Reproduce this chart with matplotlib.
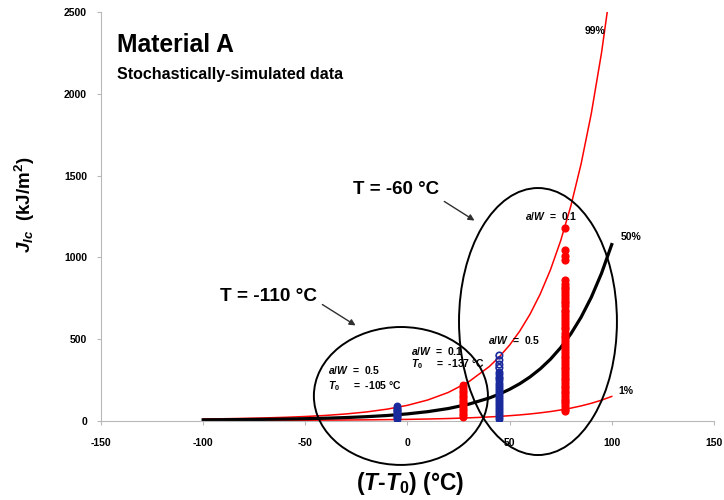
import matplotlib
matplotlib.use("Agg")
import matplotlib.pyplot as plt
from matplotlib.patches import Ellipse

plt.rcParams['font.family'] = ['Liberation Sans', 'DejaVu Sans']
plt.rcParams['font.weight'] = 'bold'
plt.rcParams['axes.unicode_minus'] = False
plt.rcParams['mathtext.fontset'] = 'custom'
plt.rcParams['mathtext.it'] = 'Liberation Sans:italic:bold'
plt.rcParams['mathtext.rm'] = 'Liberation Sans:bold'
plt.rcParams['mathtext.bf'] = 'Liberation Sans:bold'

# tolerance bounds (T-T0 in degC, J in kJ/m^2)
x_curve = [-100, -90, -80, -70, -60, -50, -40, -30, -20, -10, 0, 10, 20, 30,
           40, 45, 50, 55, 60, 65, 70, 75, 80, 85, 90, 95, 100]
j_50 = [7.1, 7.9, 8.9, 10.2, 11.9, 14.2, 17.1, 21.1, 26.4, 33.6, 43.5, 57.2,
        76.2, 102.8, 140.4, 164.6, 193.6, 228.1, 269.3, 318.6, 377.5, 448.1,
        532.8, 634.3, 756.1, 902.5, 1078.3]
j_01 = [3.2, 3.4, 3.6, 3.9, 4.2, 4.7, 5.3, 6.0, 7.0, 8.3, 9.9, 12.1, 15.1,
        19.2, 24.7, 28.2, 32.4, 37.2, 43.0, 49.8, 57.8, 67.4, 78.7, 92.2,
        108.2, 127.4, 150.2]
j_99 = [12.2, 13.8, 16.0, 18.8, 22.5, 27.5, 34.1, 43.2, 55.4, 72.4, 95.8,
        128.6, 174.6, 239.7, 332.1, 392.1, 463.9, 549.8, 652.7, 776.0, 923.9,
        1101.5, 1314.8, 1571.0, 1879.2, 2249.8, 2696.0]

# simulated specimens
x_b1 = -5    # T=-110, a/W=0.5
j_b1 = [15, 22, 30, 38, 45, 52, 60, 68, 75, 82, 90]
x_r1 = 27    # T=-110, a/W=0.1
j_r1 = [25, 35, 45, 55, 65, 75, 85, 95, 105, 115, 125, 135, 145, 155, 165,
        175, 185, 195, 205, 220]
x_b2 = 45    # T=-60, a/W=0.5
j_b2 = [12, 22, 35, 48, 60, 72, 85, 98, 110, 122, 135, 148, 160, 172, 185,
        198, 210, 222, 235, 248, 260, 272, 285, 298]
j_b2_open = [325, 345, 372, 400]
x_r2 = 77    # T=-60, a/W=0.1
j_r2 = [62, 75, 90, 108, 120, 135, 150, 170, 185, 200, 215, 232, 250, 262,
        280, 300, 315, 330, 350, 368, 385, 400, 418, 435, 450, 470, 488, 505,
        520, 540, 560, 575, 590, 610, 630, 650, 665, 680, 700, 720, 735, 750,
        770, 790, 805, 820, 840, 860, 985, 1010, 1045, 1180]

red = '#ff0000'
blue = '#1a2a9c'

fig = plt.figure(figsize=(7.24, 5.0), dpi=100)
ax = fig.add_axes([0.1395, 0.158, 0.8465, 0.818])

ax.plot(x_curve, j_01, color=red, lw=1.1)
ax.plot(x_curve, j_99, color=red, lw=1.1)
ax.plot(x_curve, j_50, color='black', lw=2.3)

ax.scatter([x_b1] * len(j_b1), j_b1, s=22, color=blue, zorder=3)
ax.scatter([x_r1] * len(j_r1), j_r1, s=22, color=red, zorder=3)
ax.scatter([x_b2] * len(j_b2), j_b2, s=22, color=blue, zorder=3)
ax.scatter([x_b2] * len(j_b2_open), j_b2_open, s=22, facecolor='none',
           edgecolor=blue, lw=1.2, zorder=3)
ax.scatter([x_r2] * len(j_r2), j_r2, s=24, color=red, zorder=3)

# grouping ellipses
ax.add_patch(Ellipse((-3.2, 153), 85.2, 843, fill=False, ec='black', lw=1.4,
                     clip_on=False, zorder=4))
ax.add_patch(Ellipse((63.9, 608), 77.3, 1632, fill=False, ec='black', lw=1.4,
                     clip_on=False, zorder=4))

ax.set_xlim(-150, 150)
ax.set_ylim(0, 2500)
ax.set_xticks([-150, -100, -50, 0, 50, 100, 150])
ax.set_yticks([0, 500, 1000, 1500, 2000, 2500])
for s in ['top', 'right']:
    ax.spines[s].set_visible(False)
for s in ['left', 'bottom']:
    ax.spines[s].set_color('#b8b8b8')
    ax.spines[s].set_linewidth(0.8)
ax.tick_params(direction='out', length=3, width=0.8, color='#b8b8b8',
               labelsize=7.5)
ax.tick_params(axis='x', pad=9)
ax.tick_params(axis='y', pad=7)

ax.set_xlabel(r"($\mathit{T}$-$\mathit{T}_{\mathit{0}}$) (°C)", fontsize=16.5,
              fontweight='bold', va='center')
ax.xaxis.set_label_coords(0.504, -0.152)
ax.set_ylabel(r"$\mathit{J}_{\mathit{Ic}}$  (kJ/m$^{\mathrm{2}}$)",
              fontsize=13.5, fontweight='bold', va='center')
ax.yaxis.set_label_coords(-0.124, 0.528)

ax.text(-142.2, 2298, "Material A", fontsize=17.7, va='center')
ax.text(-142.2, 2120, "Stochastically-simulated data", fontsize=11.5,
        va='center')

ax.text(-26.7, 1418, "T = -60 °C", fontsize=13.5, va='center')
ax.text(-91.8, 758, "T = -110 °C", fontsize=13.7, va='center')
arrow = dict(arrowstyle='-|>', color='#303030', lw=1.0, mutation_scale=9)
ax.annotate('', xy=(34.0, 1216), xytext=(16.9, 1351), arrowprops=arrow)
ax.annotate('', xy=(-24.2, 575), xytext=(-42.8, 721), arrowprops=arrow)

ax.text(86.9, 2384, "99%", fontsize=7.5, va='center')
ax.text(104.5, 1125, "50%", fontsize=7.5, va='center')
ax.text(103.2, 183, "1%", fontsize=7.5, va='center')

ax.text(-38.9, 312, r"$\mathit{a/W}$  =  0.5", fontsize=7.5, va='center')
ax.text(-38.9, 214, r"$\mathit{T}_{\mathit{0}}$     =  -105 °C",
        fontsize=7.5, va='center')
ax.text(1.7, 428, r"$\mathit{a/W}$  =  0.1", fontsize=7.5, va='center')
ax.text(1.7, 348, r"$\mathit{T}_{\mathit{0}}$     =  -137 °C",
        fontsize=7.5, va='center')
ax.text(39.4, 495, r"$\mathit{a/W}$  =  0.5", fontsize=7.5, va='center')
ax.text(57.5, 1253, r"$\mathit{a/W}$  =  0.1", fontsize=7.5, va='center')

fig.savefig("out.png", dpi=100)
